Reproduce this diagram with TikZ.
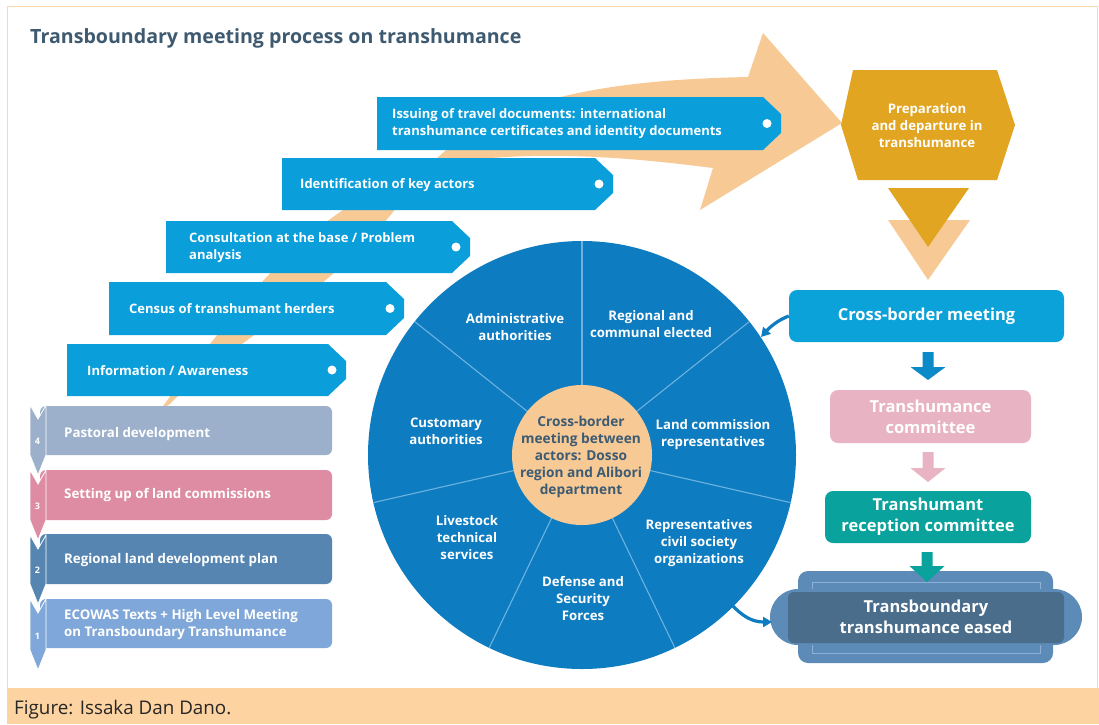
\documentclass[tikz,border=0pt]{standalone}
\usepackage{fontspec}
\setmainfont{Open Sans}
\usetikzlibrary{arrows.meta,calc}
\definecolor{framec}{HTML}{FDD8AC}
\definecolor{capc}{HTML}{FCD3A1}
\definecolor{titlec}{HTML}{3E5A70}
\definecolor{orangeL}{HTML}{F6C995}
\definecolor{tagblue}{HTML}{0A9EDA}
\definecolor{circblue}{HTML}{0E7CC0}
\definecolor{spokec}{HTML}{6DB3E0}
\definecolor{centertext}{HTML}{3D5B73}
\definecolor{gold}{HTML}{E2A521}
\definecolor{cbmblue}{HTML}{0BA1D9}
\definecolor{arrblue}{HTML}{0B8AC9}
\definecolor{pinkbox}{HTML}{E8B4C3}
\definecolor{tealbox}{HTML}{0AA29D}
\definecolor{easedout}{HTML}{5C8BB8}
\definecolor{easedin}{HTML}{4A6D8B}
\definecolor{easedline}{HTML}{8CB0D6}
\definecolor{boxfour}{HTML}{9CB0CB}
\definecolor{boxthree}{HTML}{DE8CA3}
\definecolor{boxtwo}{HTML}{5685B1}
\definecolor{boxone}{HTML}{80A7D9}
\newcommand\mytag[4]{%
  \fill[tagblue] (#1,#2) -- ({#3-18},#2) -- (#3,{#2+17}) -- (#3,{#4-17}) -- ({#3-18},#4) -- (#1,#4) -- cycle;
  \fill[white] ({#3-14},{(#2+#4)/2}) circle (4.5pt);}
\newcommand\blkarrow[5]{%
  \fill[#1] ($#2+(-5.5,#3)$) -- ($#2+(5.5,#3)$) -- ($#2+(5.5,#3+#4)$) -- ($#2+(17.5,#3+#4)$)
   -- ($#2+(0,#3+#4+#5)$) -- ($#2+(-17.5,#3+#4)$) -- ($#2+(-5.5,#3+#4)$) -- cycle;}
\newcommand\myribbon[4]{% color, top, boxbottom, number
  \fill[#1, draw=white, line width=0.8pt] (30,{#2}) -- (38,{#2+14}) -- (46,{#2}) -- (46,{#3}) -- (38,{#3+20}) -- (30,{#3}) -- cycle;
  \node[numtext] (num#4) at (37.5,{#3-14}) {#4};}
\begin{document}
\begin{tikzpicture}[x=1pt,y=-1pt,
  tagtext/.style={text=white, font=\bfseries\fontsize{13}{17}\selectfont, align=left, anchor=west, inner sep=0},
  seclabel/.style={text=white, font=\bfseries\fontsize{13.2}{17}\selectfont, align=center, inner sep=0},
  rbox/.style={rounded corners=8pt, text=white, font=\bfseries\fontsize{16.5}{21}\selectfont, align=center, inner sep=0},
  boxtext/.style={text=white, font=\bfseries\fontsize{13.3}{17}\selectfont, align=left, anchor=west, inner sep=0},
  numtext/.style={text=white, font=\bfseries\fontsize{9}{10}\selectfont, inner sep=0},
  curvarrow/.style={draw=circblue, line width=3.2pt, -{Triangle[length=9pt,width=10pt]}}]
\useasboundingbox (0,0) rectangle (1099,724);
\fill[white] (0,0) rectangle (1099,724);
% frame and caption band
\draw[framec, line width=1pt] (7,6) rectangle (1097,688);
\fill[capc] (7,688) rectangle (1099,724);
\node[anchor=west, inner sep=0, text=black!85, font=\fontsize{18.8}{22}\selectfont] (caption) at (14,710) {Figure: Issaka Dan Dano.};
% title
\node[anchor=west, inner sep=0, text=titlec, font=\bfseries\fontsize{19.6}{24}\selectfont] (title) at (30,38) {Transboundary meeting process on transhumance};
% big orange swoosh arrow
\fill[orangeL] (160,410) .. controls (250,290) and (330,180) .. (470,160)
  .. controls (560,150) and (650,160) .. (713,168) -- (700,210) -- (842,123) -- (763,33) -- (748,77)
  .. controls (600,80) and (470,100) .. (410,190)
  .. controls (330,300) and (230,340) .. (170,404) -- cycle;
% tags
\mytag{377}{97}{781}{150}
\mytag{282}{158}{613}{210}
\mytag{166}{221}{470}{273}
\mytag{109}{282}{404}{335}
\mytag{67}{344}{346}{396}
\node[tagtext] (issuing) at (392,124) {Issuing of travel documents: international\\transhumance certificates and identity documents};
\node[tagtext] (identif) at (300,185) {Identification of key actors};
\node[tagtext] (consult) at (189,248) {Consultation at the base / Problem\\analysis};
\node[tagtext] (census) at (129,309) {Census of transhumant herders};
\node[tagtext] (inform) at (87,371) {Information / Awareness};
% left stacked steps
\fill[boxfour, rounded corners=6pt] (40,406) rectangle (332,455);
\fill[boxthree, rounded corners=6pt] (40,470) rectangle (332,520);
\fill[boxtwo, rounded corners=6pt] (40,534) rectangle (332,584);
\fill[boxone, rounded corners=6pt] (40,599) rectangle (332,648);
\myribbon{boxfour}{405}{455}{4}
\myribbon{boxthree}{470}{520}{3}
\myribbon{boxtwo}{535}{584}{2}
\myribbon{boxone}{599}{650}{1}
\node[boxtext] (pastoral) at (64,434) {Pastoral development};
\node[boxtext] (landcom) at (64,495) {Setting up of land commissions};
\node[boxtext] (regplan) at (64,560) {Regional land development plan};
\node[boxtext] (ecowas) at (64,625) {ECOWAS Texts + High Level Meeting\\on Transboundary Transhumance};
% wheel
\coordinate (C) at (582,455);
\fill[circblue] (C) circle (214pt);
\foreach \a in {0,...,6}{
  \draw[spokec, line width=1.1pt] ($(C)+({90+\a*360/7}:69pt)$) -- ($(C)+({90+\a*360/7}:214pt)$);
}
\fill[orangeL] (C) circle (70pt);
\node[text=centertext, font=\bfseries\fontsize{13.7}{17}\selectfont, align=center, inner sep=0] (center) at (581,457) {Cross-border\\meeting between\\actors: Dosso\\region and Alibori\\department};
\node[seclabel] (admin) at (515,327) {Administrative\\authorities};
\node[seclabel] (regional) at (651,324) {Regional and\\communal elected};
\node[seclabel] (landrep) at (713,435) {Land commission\\representatives};
\node[seclabel] (civil) at (699,543) {Representatives\\civil society\\organizations};
\node[seclabel] (defense) at (583,598) {Defense and\\Security\\Forces};
\node[seclabel] (livestock) at (467,538) {Livestock\\technical\\services};
\node[seclabel] (customary) at (446,431) {Customary\\authorities};
% right column
\fill[gold] (853,70) -- (997,70) -- (1015,125) -- (997,180) -- (858,180) -- (841,125) -- cycle;
\node[text=white, font=\bfseries\fontsize{13.2}{17}\selectfont, align=center, inner sep=0] (prep) at (927,126) {Preparation\\and departure in\\transhumance};
\fill[orangeL] (888,220) -- (970,220) -- (928,280) -- cycle;
\fill[gold] (888,188) -- (969,188) -- (928,247) -- cycle;
\node[rbox, fill=cbmblue, minimum width=275pt, minimum height=52pt] (cbm) at (926.5,316) {Cross-border meeting};
\node[rbox, fill=pinkbox, minimum width=201pt, minimum height=53pt] (tcom) at (930.5,416.5) {Transhumance\\committee};
\node[rbox, fill=tealbox, minimum width=206pt, minimum height=52pt] (trec) at (928,517) {Transhumant\\reception committee};
\coordinate (a1) at (928,342);
\coordinate (a2) at (928,443);
\coordinate (a3) at (927,543);
\blkarrow{arrblue}{(a1)}{10}{15}{13}
\blkarrow{pinkbox}{(a2)}{9}{16}{14}
% eased composite
\fill[easedout, rounded corners=10pt] (798,571) rectangle (1053,663);
\draw[easedline, line width=1pt] (812,582) rectangle (1040,653);
\fill[easedout, rounded corners=28pt] (770,589) rectangle (1082,645);
\fill[easedin, rounded corners=6pt] (788,592) rectangle (1064,643);
\blkarrow{tealbox}{(a3)}{9}{14}{16}
\node[text=white, font=\bfseries\fontsize{16.5}{21}\selectfont, align=center, inner sep=0] (eased) at (926,617) {Transboundary\\transhumance eased};
% curved connectors
\coordinate (c1) at (761,337);
\coordinate (c2s) at (731,604);
\coordinate (c2e) at (772,622);
\draw[curvarrow] (cbm.west) .. controls (778,320) and (770,327) .. (c1);
\draw[curvarrow] (c2s) .. controls (742,616) and (752,622) .. (c2e);
\end{tikzpicture}
\end{document}
